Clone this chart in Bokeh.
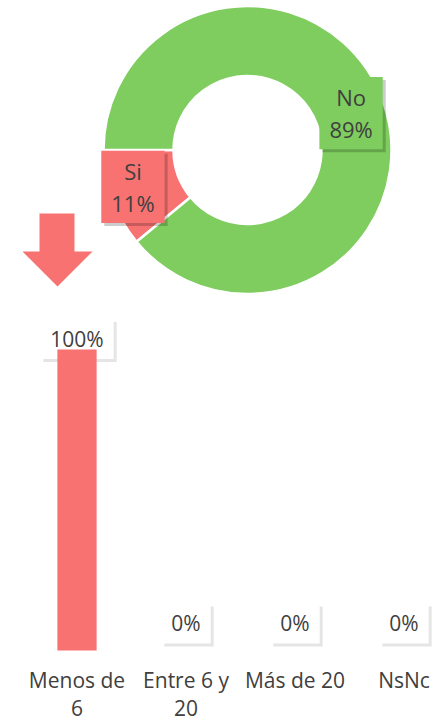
import numpy as np
from bokeh.plotting import figure
from bokeh.layouts import column
from bokeh.models import Range1d, ColumnDataSource
from bokeh.core.properties import value
from bokeh.embed import file_html
from bokeh.resources import INLINE

# ---- donut data ----
pie_labels = ["Si", "No"]
pie_values = [11, 89]
pie_colors = ["#F87272", "#7ECD5E"]

# ---- bar data ----
bar_categories = ["Menos de 6", "Entre 6 y 20", "Más de 20", "NsNc"]
bar_tick_labels = ["Menos de\n6", "Entre 6 y\n20", "Más de 20", "NsNc"]
bar_values = [1.00, 0.00, 0.00, 0.00]
bar_color = "#F87272"

FONT = "Open Sans"
TEXT_COLOR = "#404040"
W = 437
H_TOP = 308
H_BOT = 413

# ================= donut =================
p1 = figure(width=W, height=H_TOP, x_range=Range1d(-247, 190), y_range=Range1d(-158.5, 149.5),
            output_backend="svg", toolbar_location=None, min_border=0)
p1.axis.visible = False
p1.grid.visible = False
p1.outline_line_color = None

vals = np.array(pie_values, dtype=float)
frac = vals / vals.sum()
ends = np.pi + np.cumsum(frac) * 2 * np.pi
starts = ends - frac * 2 * np.pi
R_OUT, R_IN = 144, 74
mids = (starts + ends) / 2
r_mid = (R_IN + R_OUT) / 2
label_dx = [-12, 1]  # style offsets (screen px)

src = ColumnDataSource(dict(
    start=starts, end=ends, color=pie_colors,
    lx=r_mid * np.cos(mids), ly=r_mid * np.sin(mids),
    text=[f"{l}\n{v:.0f}%" for l, v in zip(pie_labels, 100 * frac)],
    dx=label_dx,
    dx_sh=[d + 3 for d in label_dx],
))
p1.annular_wedge(x=0, y=0, inner_radius=R_IN, outer_radius=R_OUT,
                 start_angle="start", end_angle="end", fill_color="color",
                 line_color="white", line_width=2.5, source=src)

pad_pie = dict(left=10, right=10, top=5, bottom=5)
# shadow
p1.text(x="lx", y="ly", text="text", source=src, x_offset="dx_sh", y_offset=3,
        text_font=value(FONT), text_font_size="22px", text_align="center",
        text_baseline="middle", text_line_height=1.07, text_alpha=0,
        background_fill_color="black", background_fill_alpha=0.2,
        padding=pad_pie)
p1.text(x="lx", y="ly", text="text", source=src, x_offset="dx",
        text_font=value(FONT), text_font_size="22px", text_align="center",
        text_baseline="middle", text_line_height=1.07, text_color=TEXT_COLOR,
        background_fill_color="color", padding=pad_pie)

# decorative arrow
arrow_x = [-208, -173, -173, -155, -190, -225, -208]
arrow_y = [-63.5, -63.5, -101.5, -101.5, -136.5, -101.5, -101.5]
p1.patch(arrow_x, arrow_y, fill_color=bar_color, line_color=None)

# ================= bars =================
x0 = -76.5 / 109
p2 = figure(width=W, height=H_BOT, x_range=Range1d(x0, x0 + W / 109),
            y_range=Range1d(-71 / 301, 342 / 301),
            output_backend="svg", toolbar_location=None, min_border=0)
p2.axis.visible = False
p2.grid.visible = False
p2.outline_line_color = None

idx = np.arange(len(bar_categories))
bvals = np.array(bar_values)
bsrc = ColumnDataSource(dict(
    x=idx, top=bvals,
    ly=np.minimum(bvals + 0.09, 1.035),
    text=[f"{v * 100:.0f}%" for v in bvals],
    cat=bar_tick_labels,
))
pad_bar = dict(left=10, right=10, top=6, bottom=6)
p2.text(x="x", y="ly", text="text", source=bsrc, x_offset=3, y_offset=3,
        text_font=value(FONT), text_font_size="21px", text_align="center",
        text_baseline="middle", text_alpha=0,
        background_fill_color="black", background_fill_alpha=0.1, padding=pad_bar)
p2.text(x="x", y="ly", text="text", source=bsrc,
        text_font=value(FONT), text_font_size="21px", text_align="center",
        text_baseline="middle", text_color=TEXT_COLOR,
        background_fill_color="white", padding=pad_bar)
p2.vbar(x="x", top="top", bottom=0, width=0.36, source=bsrc,
        fill_color=bar_color, line_color=None)

# category labels
p2.text(x="x", y=-15 / 301, text="cat", source=bsrc,
        text_font=value(FONT), text_font_size="21px", text_align="center",
        text_baseline="top", text_line_height=1.0, text_color=TEXT_COLOR)

layout = column(p1, p2)
open("out.html", "w").write(file_html(layout, INLINE))
